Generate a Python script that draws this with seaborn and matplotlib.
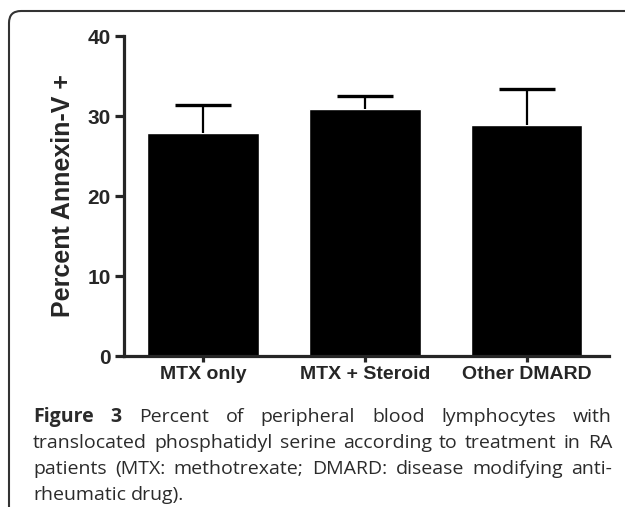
import numpy as np
import pandas as pd
import seaborn as sns
from matplotlib import pyplot as plt
from matplotlib.patches import FancyBboxPatch

groups = ['MTX only', 'MTX + Steroid', 'Other DMARD']
means = [27.9, 30.9, 28.9]
sem = [3.5, 1.6, 4.5]
yticks = [0, 10, 20, 30, 40]

caption_lines = [
    'Percent of peripheral blood lymphocytes with',
    'translocated phosphatidyl serine according to treatment in RA',
    'patients (MTX: methotrexate; DMARD: disease modifying anti-',
    'rheumatic drug).',
]

sns.set_style('ticks')
plt.rcParams['font.family'] = ['Liberation Sans', 'DejaVu Sans']

df = pd.DataFrame({'group': groups, 'mean': means})

fig = plt.figure(figsize=(6.25, 5.07), dpi=100)
ax = fig.add_axes([124/625, 1-356/507, 485/625, 320/507])

sns.barplot(data=df, x='group', y='mean', color='black', width=0.69,
            saturation=1, errorbar=None, ax=ax)
eb = ax.errorbar(x=np.arange(len(groups)), y=means,
                 yerr=[np.zeros(len(sem)), sem],
                 fmt='none', ecolor='black', elinewidth=1.6, capsize=20, capthick=2.4)
# only the upper cap (GraphPad style)
eb[1][0].set_visible(False)

ax.set_xlim(-0.49, 2.51)
ax.set_ylim(0, 40)
ax.set_yticks(yticks)
ax.set_xlabel('')
ax.set_ylabel('Percent Annexin-V +', fontsize=18, fontweight='bold', labelpad=9)
sns.despine(ax=ax)
for s in ['left', 'bottom']:
    ax.spines[s].set_linewidth(2.3)
ax.tick_params(axis='y', length=6.5, width=2.3, pad=3, labelsize=15)
ax.tick_params(axis='x', length=4.5, width=2.3, pad=3, labelsize=14)
for lab in ax.get_xticklabels() + ax.get_yticklabels():
    lab.set_fontweight('bold')

# frame around the figure panel
frame = FancyBboxPatch((0.09, -0.5), 7.0, 4.96 + 0.5, boxstyle='round,pad=0,rounding_size=0.12',
                       transform=fig.dpi_scale_trans, fill=False, edgecolor='#333333',
                       linewidth=1.5, clip_on=False)
fig.patches.append(frame)

# justified caption
cap_font = ['Open Sans', 'DejaVu Sans']
cap_color = '#2b2b2b'
x0, x1 = 33, 612
baselines = [422, 448, 474, 500]
renderer = fig.canvas.get_renderer()

def word_width(w, size, weight='normal'):
    t = fig.text(0, 0, w, fontsize=size, family=cap_font, fontweight=weight)
    wd = t.get_window_extent(renderer).width
    t.remove()
    return wd

# largest size where the longest line still fits with a small gap
cap_size = 14.0
while cap_size > 9:
    ws = caption_lines[1].split(' ')
    need = sum(word_width(w, cap_size) for w in ws) + 4.5 * (len(ws) - 1)
    if need <= x1 - x0:
        break
    cap_size -= 0.1

for i, line in enumerate(caption_lines):
    words = [(w, 'normal') for w in line.split(' ')]
    if i == 0:
        words = [('Figure', 'bold'), ('3', 'bold')] + words
    widths = [word_width(w, cap_size, wt) for w, wt in words]
    if i < len(caption_lines) - 1:
        gap = (x1 - x0 - sum(widths)) / (len(words) - 1)
    else:
        gap = word_width('a b', cap_size) - word_width('ab', cap_size)
    x = x0
    y = 1 - baselines[i] / 507
    for (w, wt), wd in zip(words, widths):
        fig.text(x / 625, y, w, fontsize=cap_size, family=cap_font, fontweight=wt,
                 color=cap_color, va='baseline', ha='left')
        x += wd + gap

fig.savefig('out.png', dpi=100)
